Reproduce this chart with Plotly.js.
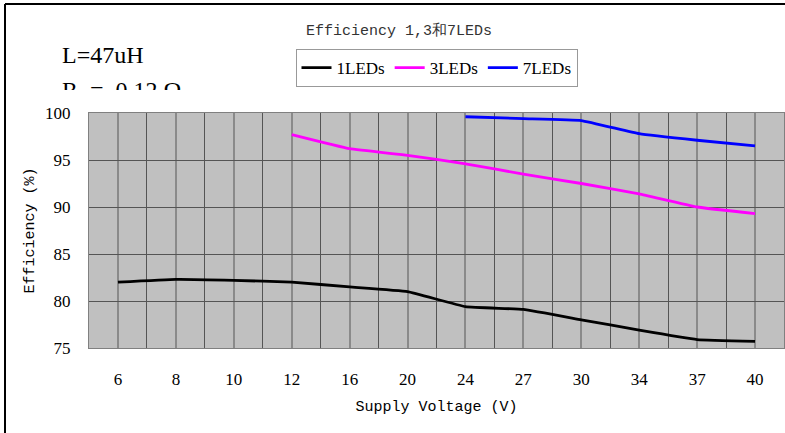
<!DOCTYPE html>
<html>
<head>
<meta charset="utf-8">
<script src="https://cdn.plot.ly/plotly-3.0.1.min.js"></script>
<style>
html,body{margin:0;padding:0;background:#fff;}
#wrap{position:relative;width:785px;height:433px;}
#chart{width:785px;height:433px;}
#rclip{position:absolute;left:62px;top:76px;width:140px;height:14px;overflow:hidden;font-family:"Liberation Serif",serif;font-size:24px;line-height:28px;color:#000;white-space:pre;}
</style>
</head>
<body>
<div id="wrap">
<div id="chart"></div>
<div id="rclip">R  =  0.12 Ω</div>
</div>
<script>
const categories = ['6','8','10','12','16','20','24','27','30','34','37','40'];
const led1 = [82.0, 82.3, 82.2, 82.0, 81.5, 81.0, 79.4, 79.1, 78.0, 76.9, 75.9, 75.7];
const led3 = [null, null, null, 97.7, 96.2, 95.5, 94.6, 93.5, 92.5, 91.4, 90.0, 89.3];
const led7 = [null, null, null, null, null, null, 99.6, 99.4, 99.2, 97.8, 97.1, 96.5];
const seriesNames = ['1LEDs', '3LEDs', '7LEDs'];
const seriesColors = ['#000000', '#ff00ff', '#0000ff'];
const yTicks = [75, 80, 85, 90, 95, 100];

const xIdx = categories.map((_, i) => i);
const mono = '"Liberation Mono", monospace';
const serif = '"Liberation Serif", serif';

const traces = [led1, led3, led7].map((vals, k) => ({
  type: 'scatter', mode: 'lines', x: xIdx, y: vals, name: seriesNames[k],
  line: {color: seriesColors[k], width: 2.8, shape: 'spline', smoothing: 0.3},
  connectgaps: false
}));

const layout = {
  width: 785, height: 433,
  margin: {l: 89, r: 1, t: 113, b: 85},
  paper_bgcolor: '#ffffff', plot_bgcolor: '#c0c0c0',
  font: {family: serif, color: '#000', size: 16},
  title: {text: 'Efficiency 1,3和7LEDs', x: 0.446, xref: 'paper', xanchor: 'center', y: 1 - 30 / 433, yref: 'container', yanchor: 'middle', font: {family: mono, size: 15, color: '#333'}},
  showlegend: true,
  legend: {orientation: 'h', x: 0.5, xanchor: 'center', y: (348 - 68) / 235, yanchor: 'middle', bordercolor: '#999', borderwidth: 1, bgcolor: '#fff', font: {family: serif, size: 17, color: '#000'}, itemwidth: 30, tracegroupgap: 0},
  xaxis: {
    range: [-0.5, 11.5], tickvals: xIdx, ticktext: categories, ticks: '', ticklabelstandoff: 16,
    showgrid: true, gridcolor: '#8a8a8a', gridwidth: 2,
    minor: {dtick: 1, tick0: 0.5, showgrid: true, gridcolor: '#555', gridwidth: 1, ticks: ''},
    zeroline: false, showline: true, linecolor: '#808080', linewidth: 1, mirror: true,
    tickfont: {family: serif, size: 17, color: '#000'},
    title: {text: 'Supply Voltage (V)', standoff: 12, font: {family: mono, size: 15, color: '#000'}}
  },
  yaxis: {
    range: [75, 100], tickvals: yTicks, ticks: '', ticklabelstandoff: 14,
    showgrid: true, gridcolor: '#555', gridwidth: 1,
    zeroline: false, showline: true, linecolor: '#808080', linewidth: 1, mirror: true,
    tickfont: {family: serif, size: 17, color: '#000'},
    title: {text: 'Efficiency (%)', standoff: 6, font: {family: mono, size: 15, color: '#000'}}
  },
  annotations: [
    {text: 'L=47uH', xref: 'paper', yref: 'paper', x: (60 - 89) / 695, y: (348 - 55) / 235, xanchor: 'left', yanchor: 'middle', showarrow: false, font: {family: serif, size: 24, color: '#000'}}
  ],
  shapes: [
    {type: 'line', xref: 'paper', yref: 'paper', x0: (5 - 89) / 695, x1: (5 - 89) / 695, y0: (348 - 4) / 235, y1: (348 - 433) / 235, line: {color: '#000', width: 2}},
    {type: 'line', xref: 'paper', yref: 'paper', x0: (5 - 89) / 695, x1: (785 - 89) / 695, y0: (348 - 4) / 235, y1: (348 - 4) / 235, line: {color: '#000', width: 2}}
  ]
};

Plotly.newPlot('chart', traces, layout, {displayModeBar: false, staticPlot: true});
</script>
</body>
</html>
